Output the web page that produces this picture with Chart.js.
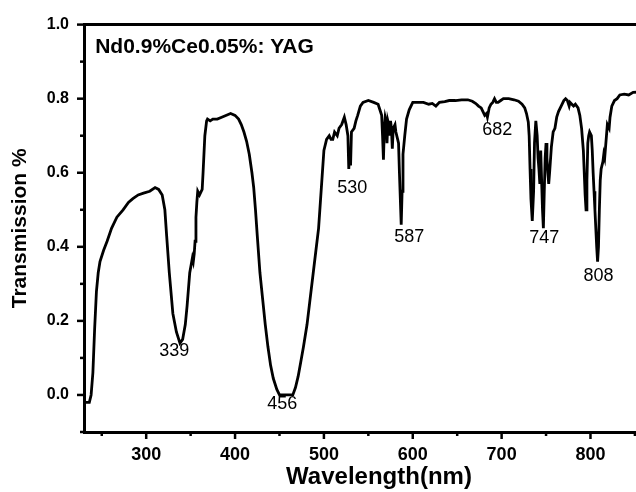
<!DOCTYPE html>
<html>
<head>
<meta charset="utf-8">
<script src="https://cdn.jsdelivr.net/npm/chart.js@4.4.1/dist/chart.umd.min.js"></script>
<style>
  html, body { margin: 0; padding: 0; background: #fff; overflow: hidden; width: 636px; height: 492px; }
</style>
</head>
<body>
<!-- the plot runs on past the right edge of the window, like the cropped figure -->
<canvas id="spectrumChart" width="674" height="492"></canvas>
<script>
// Transmission spectrum (wavelength in nm, transmission)
const wavelength = [
  230, 236, 238, 240, 242, 244, 246, 248, 252, 256, 261, 267, 274, 280, 285, 291, 297, 304, 310, 314,
  318, 321, 323, 326, 330, 334, 338, 341, 344, 346, 349, 352, 353, 354, 355, 356, 357, 358, 360, 363,
  364, 366, 368, 369, 372, 375, 380, 385, 391, 395, 400, 404, 407, 410, 413, 416, 419, 421, 423, 425,
  428, 431, 434, 437, 440, 443, 447, 450, 458, 465, 468, 471, 474, 477, 481, 484, 488, 491, 494, 496,
  498, 500, 503, 506, 508, 510, 512, 515, 517, 520, 523, 525, 527, 528, 529, 530, 531, 534, 536, 538,
  541, 544, 550, 556, 561, 563, 565, 566, 567, 568, 569, 570, 571, 572, 573, 574, 575, 576, 577, 578,
  580, 581, 583, 584, 585, 587, 588, 589, 591, 593, 596, 600, 606, 612, 618, 622, 626, 630, 636, 641,
  648, 655, 662, 667, 671, 674, 677, 679, 681, 683, 684, 686, 688, 690, 692, 694, 696, 699, 702, 708,
  714, 719, 723, 726, 728, 730, 731, 732, 733, 734.5, 736, 737, 738.5, 740, 741, 742, 743, 744, 745, 746,
  747, 748, 749, 750, 751, 752, 753, 754, 756, 758, 760, 762, 764, 767, 770, 772, 774, 776, 777, 779,
  781, 783, 786, 788, 790, 792, 793, 794, 795, 796, 797, 798, 799, 801, 802, 803, 804, 805, 806, 807,
  808, 809, 810, 811, 812, 814, 815, 816, 818, 819, 821, 822, 824, 827, 830, 833, 838, 843, 848, 856
];
const transmission = [
  -0.02, -0.02, 0.0, 0.06, 0.18, 0.28, 0.33, 0.36, 0.39, 0.415, 0.45, 0.48, 0.50, 0.52, 0.53, 0.54, 0.545, 0.55, 0.56, 0.555,
  0.54, 0.50, 0.43, 0.33, 0.22, 0.17, 0.14, 0.15, 0.19, 0.24, 0.33, 0.37, 0.36, 0.38, 0.415, 0.48, 0.52, 0.55, 0.54, 0.555,
  0.60, 0.70, 0.74, 0.745, 0.74, 0.745, 0.745, 0.75, 0.756, 0.76, 0.755, 0.745, 0.73, 0.71, 0.685, 0.65, 0.60, 0.56, 0.50, 0.43,
  0.33, 0.26, 0.19, 0.13, 0.08, 0.045, 0.015, 0.0, 0.0, 0.0, 0.02, 0.05, 0.09, 0.13, 0.19, 0.25, 0.33, 0.39, 0.45, 0.52,
  0.59, 0.66, 0.69, 0.70, 0.69, 0.69, 0.71, 0.70, 0.72, 0.73, 0.75, 0.73, 0.70, 0.61, 0.66, 0.62, 0.71, 0.72, 0.74, 0.755,
  0.78, 0.79, 0.795, 0.79, 0.785, 0.77, 0.755, 0.70, 0.635, 0.72, 0.75, 0.74, 0.68, 0.74, 0.73, 0.70, 0.74, 0.72, 0.665, 0.72,
  0.73, 0.71, 0.69, 0.68, 0.60, 0.46, 0.55, 0.65, 0.70, 0.745, 0.77, 0.79, 0.79, 0.79, 0.785, 0.787, 0.78, 0.79, 0.792, 0.795,
  0.795, 0.797, 0.797, 0.793, 0.787, 0.78, 0.775, 0.765, 0.755, 0.76, 0.75, 0.775, 0.785, 0.79, 0.80, 0.79, 0.79, 0.795, 0.80, 0.80,
  0.797, 0.793, 0.785, 0.775, 0.76, 0.737, 0.70, 0.61, 0.53, 0.47, 0.55, 0.68, 0.74, 0.70, 0.64, 0.61, 0.57, 0.66, 0.58, 0.50,
  0.45, 0.55, 0.64, 0.68, 0.64, 0.60, 0.57, 0.60, 0.67, 0.71, 0.72, 0.75, 0.765, 0.78, 0.795, 0.80, 0.795, 0.78, 0.79, 0.785,
  0.78, 0.785, 0.775, 0.755, 0.72, 0.66, 0.60, 0.54, 0.50, 0.58, 0.68, 0.70, 0.71, 0.70, 0.66, 0.60, 0.55, 0.50, 0.45, 0.40,
  0.36, 0.40, 0.50, 0.58, 0.61, 0.63, 0.65, 0.64, 0.70, 0.73, 0.72, 0.75, 0.78, 0.795, 0.80, 0.81, 0.812, 0.81, 0.817, 0.818
];

// axis ticks
const xTickValues = [250, 300, 350, 400, 450, 500, 550, 600, 650, 700, 750, 800, 850];
const xLabelValues = [300, 400, 500, 600, 700, 800];
const yTickValues = [-0.1, 0.0, 0.1, 0.2, 0.3, 0.4, 0.5, 0.6, 0.7, 0.8, 0.9, 1.0];
const yLabelValues = [0.0, 0.2, 0.4, 0.6, 0.8, 1.0];

// peak labels (text, wavelength and transmission where the label sits)
const peakNames = ['339', '456', '530', '587', '682', '747', '808'];
const peakLabelX = [331.5, 453, 532, 596, 695, 748, 809];
const peakLabelY = [0.118, -0.024, 0.56, 0.426, 0.716, 0.424, 0.322];

const sampleName = 'Nd0.9%Ce0.05%: YAG';
const FONT = "'Liberation Sans', Arial, Helvetica, sans-serif";

const isIn = (arr, v) => arr.some(a => Math.abs(a - v) < 1e-6);

// draws the outward tick marks, peak labels and sample name
const decorations = {
  id: 'decorations',
  afterDraw(chart) {
    const ctx = chart.ctx;
    const xs = chart.scales.x;
    const ys = chart.scales.y;
    const area = chart.chartArea;
    ctx.save();
    ctx.strokeStyle = '#000';
    ctx.lineWidth = 2.5;
    xTickValues.forEach(v => {
      const px = xs.getPixelForValue(v);
      const len = isIn(xLabelValues, v) ? 7 : 4;
      ctx.beginPath();
      ctx.moveTo(px, area.bottom);
      ctx.lineTo(px, area.bottom + len);
      ctx.stroke();
    });
    yTickValues.forEach(v => {
      const py = ys.getPixelForValue(v);
      const len = isIn(yLabelValues, v) ? 7 : 4;
      ctx.beginPath();
      ctx.moveTo(area.left, py);
      ctx.lineTo(area.left - len, py);
      ctx.stroke();
    });

    ctx.fillStyle = '#000';
    ctx.textAlign = 'center';
    ctx.textBaseline = 'middle';
    ctx.font = '18px ' + FONT;
    peakNames.forEach((name, i) => {
      ctx.fillText(name, xs.getPixelForValue(peakLabelX[i]), ys.getPixelForValue(peakLabelY[i]));
    });

    ctx.textAlign = 'left';
    ctx.textBaseline = 'alphabetic';
    ctx.font = 'bold 21px ' + FONT;
    ctx.fillText(sampleName, xs.getPixelForValue(242.6), ys.getPixelForValue(0.922));
    ctx.restore();
  }
};

const ctx = document.getElementById('spectrumChart').getContext('2d');
const spectrumChart = new Chart(ctx, {
  type: 'scatter',
  data: {
    datasets: [{
      data: wavelength.map((w, i) => ({ x: w, y: transmission[i] })),
      showLine: true,
      borderColor: '#000',
      borderWidth: 2.8,
      pointRadius: 0,
      tension: 0,
      fill: false
    }]
  },
  options: {
    responsive: false,
    animation: false,
    layout: { padding: 0 },
    plugins: {
      legend: { display: false },
      tooltip: { enabled: false }
    },
    scales: {
      x: {
        type: 'linear',
        position: 'bottom',
        min: 230,
        max: 894,
        afterFit: (scale) => { scale.height = 60; },
        afterBuildTicks: (scale) => { scale.ticks = xLabelValues.map(v => ({ value: v })); },
        grid: { display: false, drawTicks: false },
        border: { display: true, color: '#000', width: 3 },
        ticks: {
          padding: 12,
          color: '#000',
          font: { family: FONT, size: 18, weight: 'bold' },
          callback: (v) => String(v)
        },
        title: {
          display: true,
          text: 'Wavelength(nm)',
          color: '#000',
          padding: { top: 0, bottom: 0 },
          font: { family: FONT, size: 24, weight: 'bold' }
        }
      },
      xTop: {
        type: 'linear',
        position: 'top',
        min: 230,
        max: 894,
        afterFit: (scale) => { scale.height = 22; },
        grid: { display: false, drawTicks: false },
        border: { display: true, color: '#000', width: 3 },
        ticks: { display: false }
      },
      y: {
        type: 'linear',
        min: -0.1,
        max: 1.0,
        afterFit: (scale) => { scale.width = 84; },
        afterBuildTicks: (scale) => { scale.ticks = yLabelValues.map(v => ({ value: v })); },
        grid: { display: false, drawTicks: false },
        border: { display: true, color: '#000', width: 3 },
        ticks: {
          padding: 15,
          color: '#000',
          font: { family: FONT, size: 16, weight: 'bold' },
          callback: (v) => v.toFixed(1)
        },
        title: {
          display: true,
          text: 'Transmission %',
          color: '#000',
          padding: { top: 8, bottom: 0 },
          font: { family: FONT, size: 21, weight: 'bold' }
        }
      }
    }
  },
  plugins: [decorations]
});
</script>
</body>
</html>
